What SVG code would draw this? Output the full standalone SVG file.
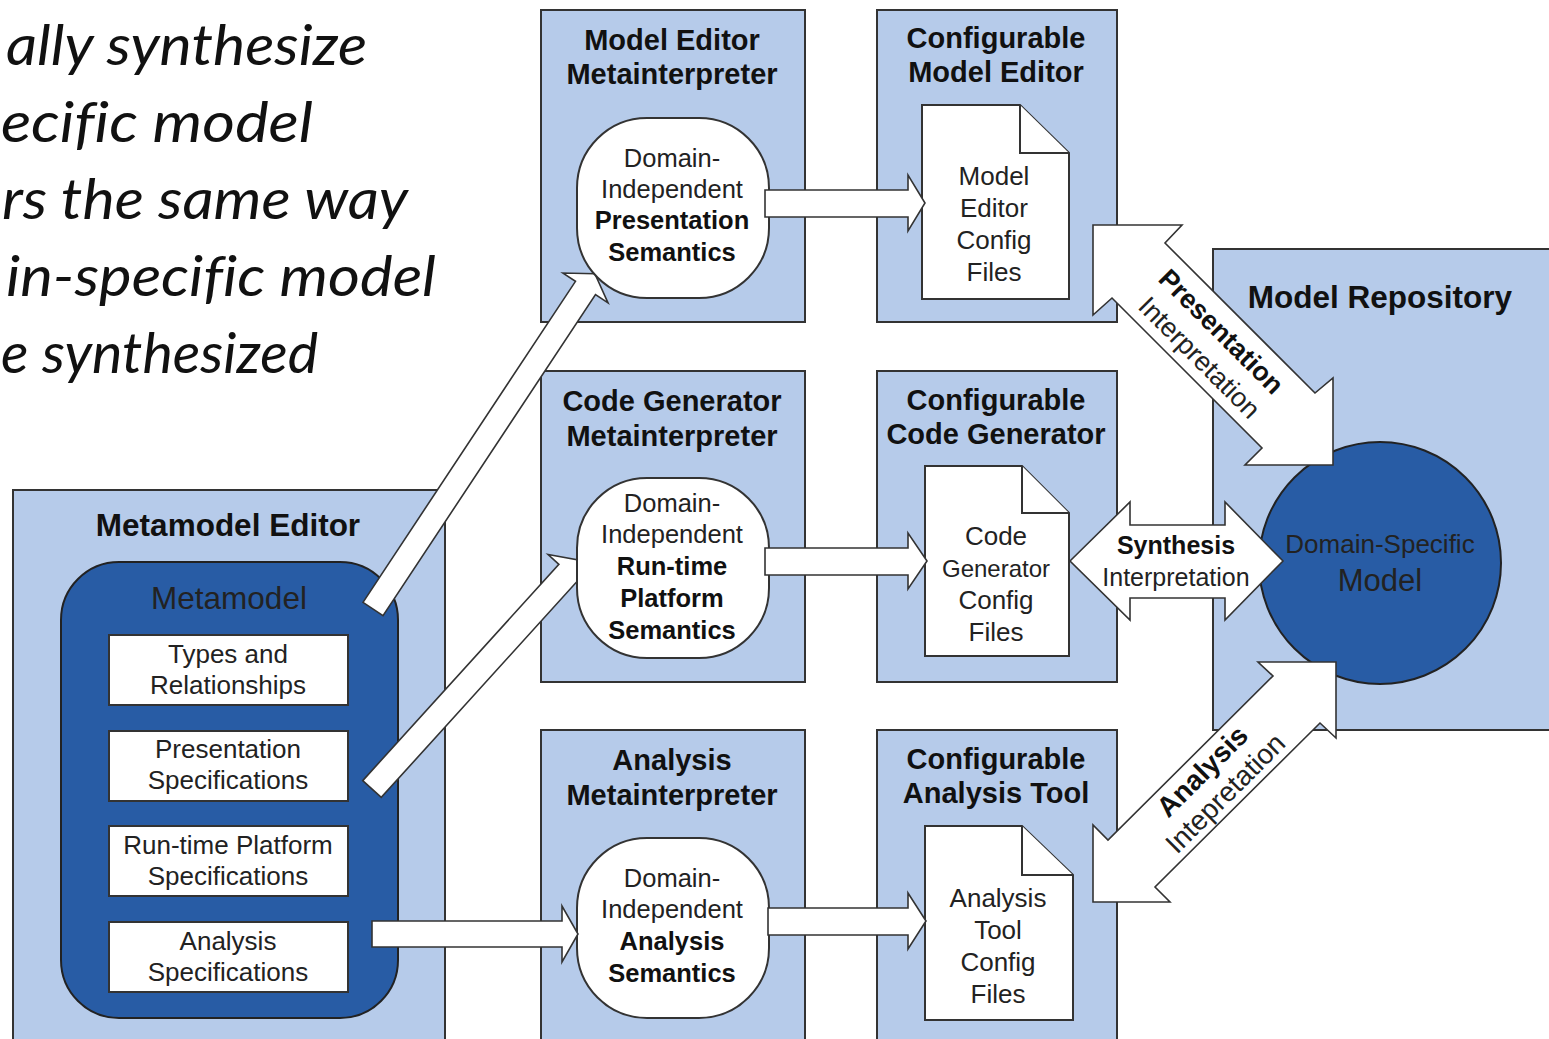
<svg xmlns="http://www.w3.org/2000/svg" width="1549" height="1039" viewBox="0 0 1549 1039">
<style>
.panel{fill:#b6cbea;stroke:#333;stroke-width:2}
.dark{fill:#285ca5;stroke:#222;stroke-width:2}
.box{fill:#fff;stroke:#333;stroke-width:2}
.arrow{fill:#fff;stroke:#333;stroke-width:1.6;stroke-linejoin:miter}
.t{font-family:"Liberation Sans",Arial,sans-serif;text-anchor:middle;fill:#222}
.b{font-weight:bold;fill:#111}
.title{font-size:29px}
.big{font-size:31.5px}
.spec{font-size:26px}
.sem{font-size:25.5px}
.doc{font-size:26px}
.it{font-family:Lato,"Open Sans",sans-serif;font-style:italic;font-size:56px;fill:#111;font-variant-ligatures:none}
</style>
<rect width="1549" height="1039" fill="#fff"/>

<g id="caption">
<text class="it" x="6" y="65" textLength="361" lengthAdjust="spacingAndGlyphs">ally synthesize</text>
<text class="it" x="1" y="142" textLength="312" lengthAdjust="spacingAndGlyphs">ecific model</text>
<text class="it" x="2" y="219" textLength="406" lengthAdjust="spacingAndGlyphs">rs the same way</text>
<text class="it" x="6" y="296" textLength="430" lengthAdjust="spacingAndGlyphs">in-specific model</text>
<text class="it" x="1" y="373" textLength="317" lengthAdjust="spacingAndGlyphs">e synthesized</text>
</g>

<g id="metamodel-editor">
<rect class="panel" x="13" y="490" width="432" height="560"/>
<text class="t b big" x="228" y="536">Metamodel Editor</text>
<rect class="dark" x="61" y="562" width="337" height="456" rx="58" ry="58"/>
<text class="t big" x="229" y="609" fill="#111">Metamodel</text>
</g>
<g id="types">
<rect class="box" x="109" y="635" width="239" height="70"/>
<text class="t spec" x="228" y="663">Types and</text>
<text class="t spec" x="228" y="694">Relationships</text>
</g>
<g id="presentation-spec">
<rect class="box" x="109" y="731" width="239" height="70"/>
<text class="t spec" x="228" y="758">Presentation</text>
<text class="t spec" x="228" y="789">Specifications</text>
</g>
<g id="runtime-spec">
<rect class="box" x="109" y="826" width="239" height="70"/>
<text class="t spec" x="228" y="854">Run-time Platform</text>
<text class="t spec" x="228" y="885">Specifications</text>
</g>
<g id="analysis-spec">
<rect class="box" x="109" y="922" width="239" height="70"/>
<text class="t spec" x="228" y="950">Analysis</text>
<text class="t spec" x="228" y="981">Specifications</text>
</g>

<g id="model-editor-metainterpreter">
<rect class="panel" x="541" y="10" width="264" height="312"/>
<text class="t b title" x="672" y="50">Model Editor</text>
<text class="t b title" x="672" y="84">Metainterpreter</text>
</g>
<g id="configurable-model-editor">
<rect class="panel" x="877" y="10" width="240" height="312"/>
<text class="t b title" x="996" y="48">Configurable</text>
<text class="t b title" x="996" y="82">Model Editor</text>
</g>
<g id="code-generator-metainterpreter">
<rect class="panel" x="541" y="371" width="264" height="311"/>
<text class="t b title" x="672" y="411">Code Generator</text>
<text class="t b title" x="672" y="446">Metainterpreter</text>
</g>
<g id="configurable-code-generator">
<rect class="panel" x="877" y="371" width="240" height="311"/>
<text class="t b title" x="996" y="410">Configurable</text>
<text class="t b title" x="996" y="444">Code Generator</text>
</g>
<g id="analysis-metainterpreter">
<rect class="panel" x="541" y="730" width="264" height="320"/>
<text class="t b title" x="672" y="770">Analysis</text>
<text class="t b title" x="672" y="805">Metainterpreter</text>
</g>
<g id="configurable-analysis-tool">
<rect class="panel" x="877" y="730" width="240" height="320"/>
<text class="t b title" x="996" y="769">Configurable</text>
<text class="t b title" x="996" y="803">Analysis Tool</text>
</g>
<g id="model-repository">
<rect class="panel" x="1213" y="249" width="345" height="481"/>
<text class="t b big" x="1380" y="308">Model Repository</text>
</g>

<g id="connectors-diagonal">
<polygon class="arrow" transform="translate(373,609) rotate(-56.5)" points="0,-12 385,-12 385,-27 402,0 385,27 385,12 0,12"/>
<polygon class="arrow" transform="translate(372,789) rotate(-47.8)" points="0,-12.5 292,-12.5 292,-27 309,0 292,27 292,12.5 0,12.5"/>
</g>

<g id="presentation-semantics">
<rect class="box" x="577" y="118" width="192" height="180" rx="70" ry="70"/>
<text class="t sem" x="672" y="167">Domain-</text>
<text class="t sem" x="672" y="198">Independent</text>
<text class="t b sem" x="672" y="229">Presentation</text>
<text class="t b sem" x="672" y="261">Semantics</text>
</g>
<g id="runtime-semantics">
<rect class="box" x="577" y="478" width="192" height="180" rx="70" ry="70"/>
<text class="t sem" x="672" y="512">Domain-</text>
<text class="t sem" x="672" y="543">Independent</text>
<text class="t b sem" x="672" y="575">Run-time</text>
<text class="t b sem" x="672" y="607">Platform</text>
<text class="t b sem" x="672" y="639">Semantics</text>
</g>
<g id="analysis-semantics">
<rect class="box" x="577" y="838" width="192" height="180" rx="70" ry="70"/>
<text class="t sem" x="672" y="887">Domain-</text>
<text class="t sem" x="672" y="918">Independent</text>
<text class="t b sem" x="672" y="950">Analysis</text>
<text class="t b sem" x="672" y="982">Semantics</text>
</g>

<g id="model-editor-config">
<path class="box" d="M922,105 H1020 L1069,153 V299 H922 Z"/>
<path class="box" d="M1020,105 V153 H1069"/>
<text class="t doc" x="994" y="185">Model</text>
<text class="t doc" x="994" y="217">Editor</text>
<text class="t doc" x="994" y="249">Config</text>
<text class="t doc" x="994" y="281">Files</text>
</g>
<g id="code-generator-config">
<path class="box" d="M925,466 H1022 L1069,513 V656 H925 Z"/>
<path class="box" d="M1022,466 V513 H1069"/>
<text class="t doc" x="996" y="545">Code</text>
<text class="t" style="font-size:24px" x="996" y="577">Generator</text>
<text class="t doc" x="996" y="609">Config</text>
<text class="t doc" x="996" y="641">Files</text>
</g>
<g id="analysis-tool-config">
<path class="box" d="M925,826 H1022 L1073,875 V1020 H925 Z"/>
<path class="box" d="M1022,826 V875 H1073"/>
<text class="t doc" x="998" y="907">Analysis</text>
<text class="t doc" x="998" y="939">Tool</text>
<text class="t doc" x="998" y="971">Config</text>
<text class="t doc" x="998" y="1003">Files</text>
</g>

<g id="domain-specific-model">
<circle class="dark" cx="1380" cy="563" r="121"/>
<text class="t" x="1380" y="553" style="font-size:26px" fill="#111">Domain-Specific</text>
<text class="t" x="1380" y="591" style="font-size:31px" fill="#111">Model</text>
</g>

<g id="connectors">
<polygon class="arrow" points="765,190 908,190 908,175 925,203 908,231 908,217 765,217"/>
<polygon class="arrow" points="765,548 908,548 908,533 927,561 908,589 908,575 765,575"/>
<polygon class="arrow" points="372,921 562,921 562,906 578,934 562,962 562,947 372,947"/>
<polygon class="arrow" points="768,908 908,908 908,893 926,921 908,949 908,935 768,935"/>

<polygon class="arrow" points="1093,225 1182,225 1165,243 1315,393 1333,378 1333,465 1245,465 1262,448 1112,298 1093,315"/>
<text class="t b" style="font-size:27px" transform="translate(1222,331) rotate(45)" x="0" y="10">Presentation</text>
<text class="t" style="font-size:27px" transform="translate(1200,357) rotate(45)" x="0" y="10">Interpretation</text>

<polygon class="arrow" points="1070,561 1130,502 1130,525 1225,525 1225,502 1283,561 1225,620 1225,598 1130,598 1130,620"/>
<text class="t b" style="font-size:25px" x="1176" y="554">Synthesis</text>
<text class="t" style="font-size:25px" x="1176" y="586">Interpretation</text>

<polygon class="arrow" points="1336,662 1336,738 1320,723 1155,887 1170,902 1093,902 1093,825 1108,840 1273,676 1258,662"/>
<text class="t b" style="font-size:28px" transform="translate(1202,771) rotate(-45)" x="0" y="10">Analysis</text>
<text class="t" style="font-size:28px" transform="translate(1225,793) rotate(-45)" x="0" y="10">Intepretation</text>
</g>
</svg>
